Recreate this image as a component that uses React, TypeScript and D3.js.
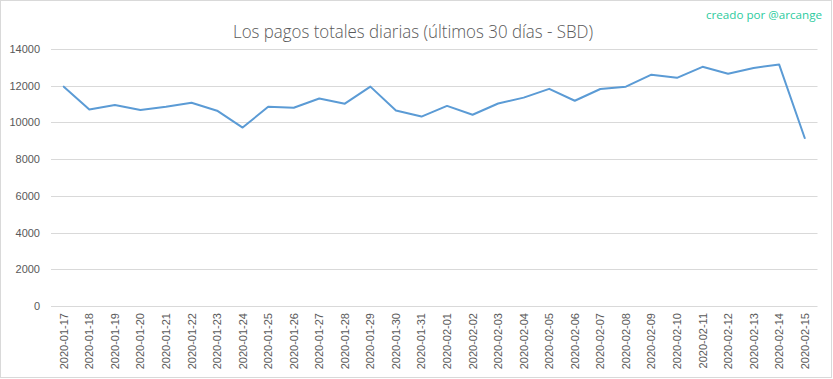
import React from "react";
import * as d3 from "d3";

const dates = [
  "2020-01-17","2020-01-18","2020-01-19","2020-01-20","2020-01-21","2020-01-22","2020-01-23","2020-01-24",
  "2020-01-25","2020-01-26","2020-01-27","2020-01-28","2020-01-29","2020-01-30","2020-01-31","2020-02-01",
  "2020-02-02","2020-02-03","2020-02-04","2020-02-05","2020-02-06","2020-02-07","2020-02-08","2020-02-09",
  "2020-02-10","2020-02-11","2020-02-12","2020-02-13","2020-02-14","2020-02-15",
];
const payouts = [
  11950, 10700, 10950, 10680, 10860, 11075, 10640, 9720,
  10850, 10800, 11300, 11020, 11950, 10650, 10320, 10900,
  10420, 11030, 11350, 11830, 11180, 11820, 11950, 12600,
  12430, 13030, 12650, 12970, 13150, 9150,
];
const yTicks = [0, 2000, 4000, 6000, 8000, 10000, 12000, 14000];
const title = "Los pagos totales diarias (últimos 30 días - SBD)";
const credit = "creado por @arcange";

export default function App() {
  const W = 833, H = 379;
  const left = 51, right = 817.5, top = 49, bottom = 306;
  const x = d3.scaleBand<string>().domain(dates).range([left, right]);
  const y = d3.scaleLinear().domain([0, 14000]).range([bottom, top]);
  const line = d3.line<number>()
    .x((_, i) => (x(dates[i]) as number) + x.bandwidth() / 2)
    .y((d) => y(d));
  const font = "'Liberation Sans', Arial, sans-serif";
  return (
    <svg width={W} height={H} style={{ position: "absolute", left: 0, top: 0, background: "#fff" }}>
      <rect x={0.5} y={0.5} width={W - 2} height={H - 2} fill="#fff" stroke="#d9d9d9" />
      <text x={822} y={19} textAnchor="end" fontFamily="'Open Sans', sans-serif" fontSize={11} fill="#2ccb9e"
        textLength={116} lengthAdjust="spacingAndGlyphs">{credit}</text>
      <text x={413} y={38} textAnchor="middle" fontFamily="'Open Sans', sans-serif" fontWeight={300}
        fontSize={18} fill="#595959" textLength={360} lengthAdjust="spacingAndGlyphs">{title}</text>
      {yTicks.map((t) => (
        <g key={t}>
          <line x1={left} x2={right} y1={Math.round(y(t)) + 0.5} y2={Math.round(y(t)) + 0.5} stroke="#d9d9d9" />
          <text x={40} y={y(t) + 4} textAnchor="end" fontFamily={font} fontSize={11} fill="#595959">{t}</text>
        </g>
      ))}
      {dates.map((d) => {
        const cx = (x(d) as number) + x.bandwidth() / 2;
        return (
          <text key={d} transform={`translate(${cx + 4},${313}) rotate(-90)`} textAnchor="end"
            fontFamily={font} fontSize={11} fill="#595959">{d}</text>
        );
      })}
      <path d={line(payouts) || ""} fill="none" stroke="#5b9bd5" strokeWidth={2} strokeLinejoin="round" strokeLinecap="round" />
    </svg>
  );
}
